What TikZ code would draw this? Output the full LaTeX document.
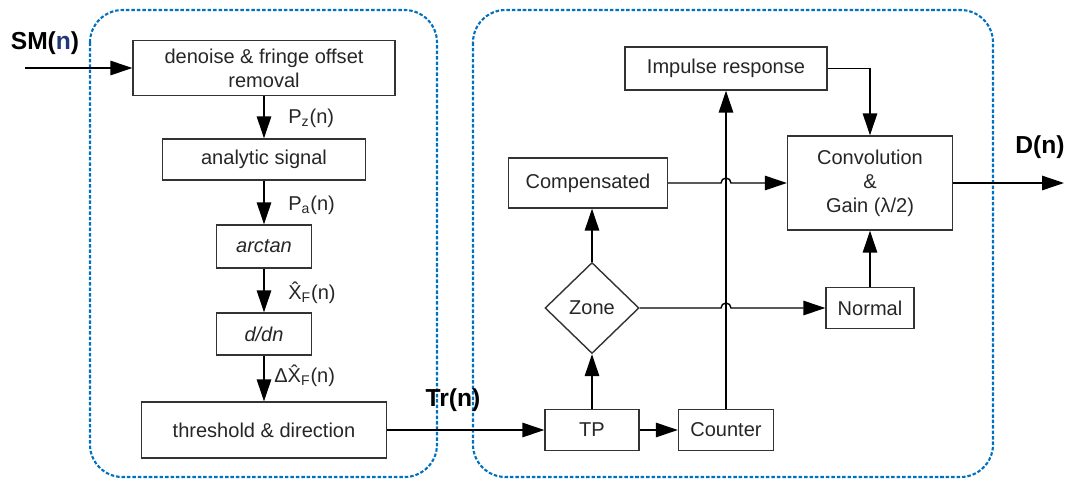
\documentclass[tikz,border=0pt]{standalone}
\usepackage{fontspec}
\setmainfont{Liberation Sans}
\definecolor{grpblue}{RGB}{0,112,192}
\definecolor{sigblue}{RGB}{31,56,120}
\usetikzlibrary{arrows.meta,shapes.geometric,calc}
\tikzset{
  blk/.style={draw=black!80, line width=0.8pt, align=center, inner sep=2pt, text=black!85},
  flow/.style={-{Triangle[length=0.44cm,width=0.29cm]}, line width=0.8pt},
  grp/.style={draw=grpblue, line width=1.2pt, dash pattern=on 2pt off 1.1pt, rounded corners=0.65cm},
  sig/.style={font=\fontsize{14}{16}\selectfont\bfseries},
  lbl/.style={font=\fontsize{11.4}{13.7}\selectfont, anchor=west, inner sep=0pt, text=black!85},
}

\begin{document}
\begin{tikzpicture}[x=0.02cm, y=-0.02cm, font=\fontsize{11.4}{13.7}\selectfont]
  \useasboundingbox (0,0) rectangle (1069,481);
  %% dashed groups
  \draw[grp] (90,10) rectangle (437,477);
  \draw[grp] (473,10) rectangle (993,477);
  %% left chain
  \coordinate (smin) at (25,68);
  \node[sig] (smlbl) at (45,43) {SM(\textcolor{sigblue}{n})};
  \node[blk, minimum width=5.24cm, minimum height=1.1cm] (dn) at (264,68) {denoise \& fringe offset\\removal};
  \node[blk, minimum width=4.06cm, minimum height=0.82cm] (an) at (264,159.5) {analytic signal};
  \node[blk, minimum width=1.9cm, minimum height=0.86cm] (at) at (264,246.5) {\itshape arctan};
  \node[blk, minimum width=1.9cm, minimum height=0.84cm] (dd) at (264,334) {\itshape d/dn};
  \node[blk, minimum width=4.9cm, minimum height=1.12cm] (th) at (264,430) {threshold \& direction};
  \node[lbl] (pz) at (288,118) {P\textsubscript{z}(n)};
  \node[lbl] (pa) at (288,205) {P\textsubscript{a}(n)};
  \node[lbl] (xf) at (288,293) {\^{X}\textsubscript{F}(n)};
  \node[lbl] (dxf) at (274,376) {Δ\^{X}\textsubscript{F}(n)};
  \draw[flow] (smin) -- (dn.west);
  \draw[flow] (dn) -- (an);
  \draw[flow] (an) -- (at);
  \draw[flow] (at) -- (dd);
  \draw[flow] (dd) -- (th);
  %% right part
  \node[sig] (trlbl) at (453,400) {Tr(n)};
  \node[blk, minimum width=1.88cm, minimum height=0.82cm] (tp) at (592,430) {TP};
  \node[blk, minimum width=1.9cm, minimum height=0.82cm] (cnt) at (726,430) {Counter};
  \node[blk, diamond, minimum width=1.88cm, minimum height=1.82cm, inner sep=0pt] (zn) at (592,308) {Zone};
  \node[blk, minimum width=1.76cm, minimum height=0.82cm] (nm) at (870,308) {Normal};
  \node[blk, minimum width=3.18cm, minimum height=1.0cm] (cp) at (588,183) {Compensated};
  \node[blk, minimum width=4.04cm, minimum height=0.86cm] (imp) at (726,68.5) {Impulse response};
  \node[blk, minimum width=3.3cm, minimum height=1.88cm] (cv) at (870,183) {Convolution\\\&\\Gain (λ/2)};
  \node[sig] (dlbl) at (1040,147) {D(n)};
  \coordinate (dout) at (1064,183);
  \draw[flow] (th) -- (tp);
  \draw[flow] (tp) -- (cnt);
  \draw[flow] (tp) -- (zn);
  \draw[flow] (zn.north) -- (zn.north |- cp.south);
  \draw[flow] (cnt) -- (cnt.north |- imp.south);
  \draw[flow] (imp.east) -| (cv.north);
  \draw[flow] (nm) -- (cv);
  \draw[flow] (cp.east) -- ($(cnt.north |- cp.east)+(-5,0)$) arc[start angle=180, end angle=0, radius=0.1cm] -- (cv.west);
  \draw[flow] (zn.east) -- ($(cnt.north |- zn.east)+(-5,0)$) arc[start angle=180, end angle=0, radius=0.1cm] -- (nm.west);
  \draw[flow] (cv) -- (dout);
\end{tikzpicture}
\end{document}
